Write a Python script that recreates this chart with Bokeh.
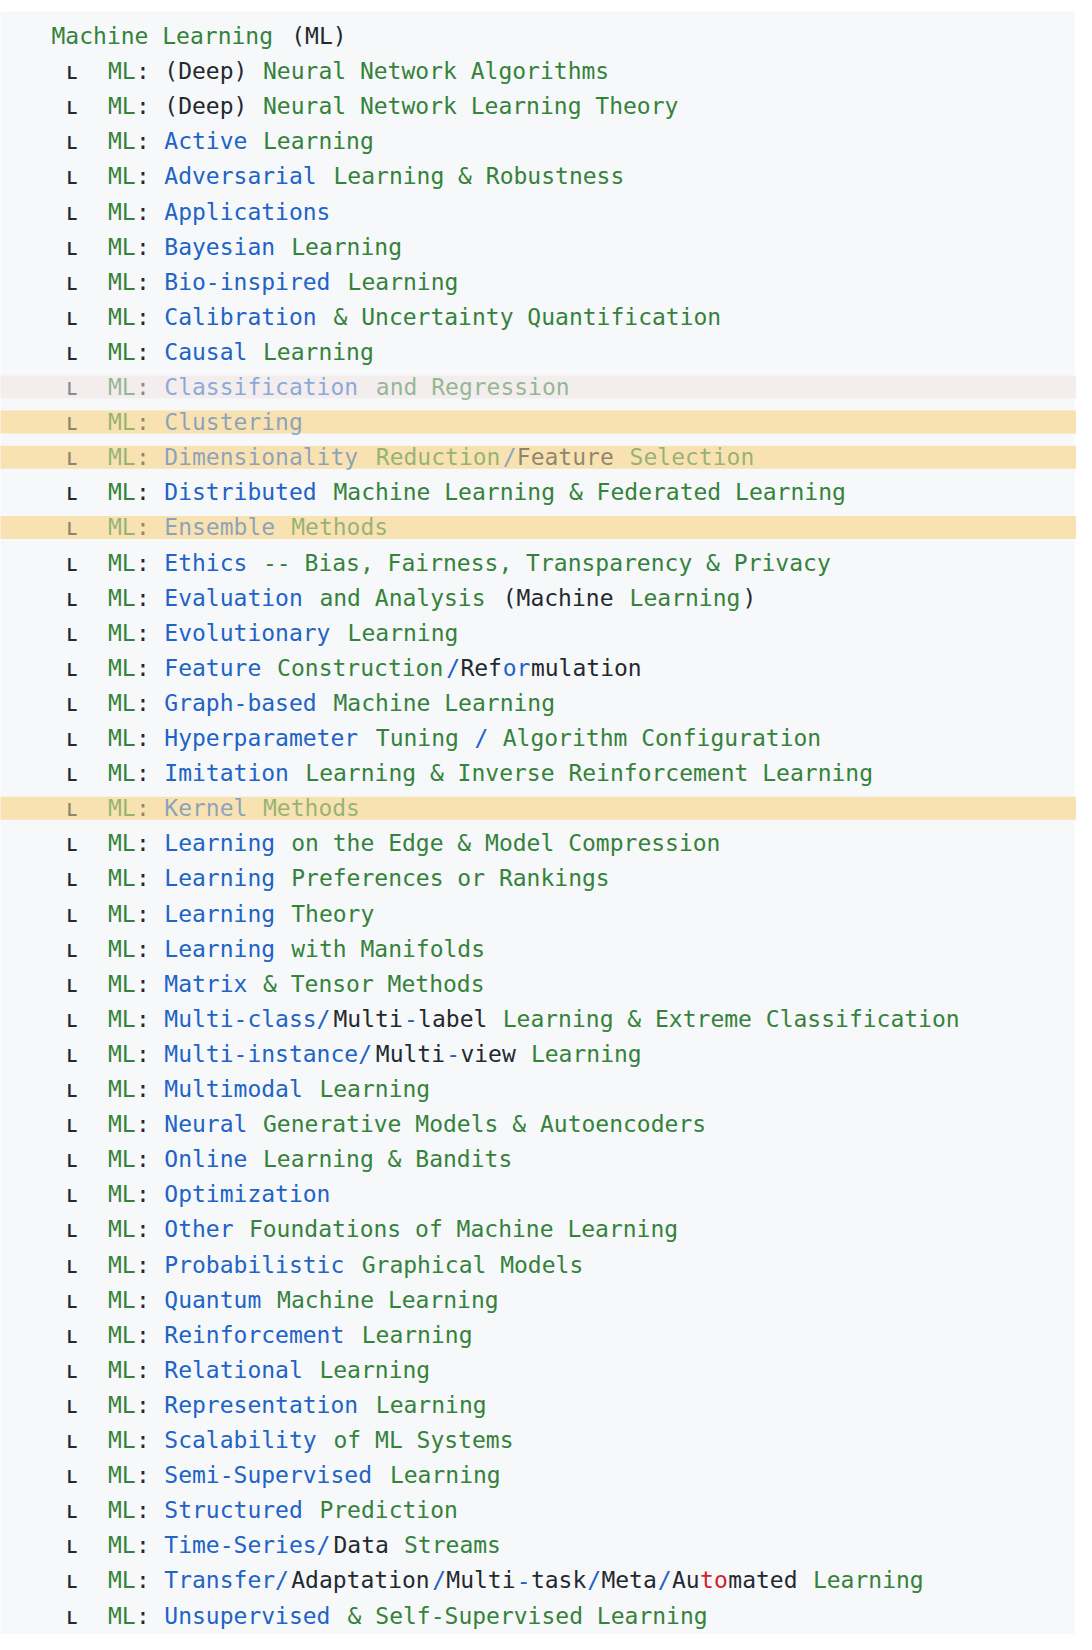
from bokeh.plotting import figure
from bokeh.models import ColumnDataSource, Range1d
from bokeh.core.properties import value
from bokeh.embed import file_html
from bokeh.resources import INLINE

# each segment starts with |<colour key>; g=green b=blue k=black r=red
header = "|gMachine Learning |k(ML)"
items = [
    "|k(Deep) |gNeural Network Algorithms",
    "|k(Deep) |gNeural Network Learning Theory",
    "|bActive |gLearning",
    "|bAdversarial |gLearning & Robustness",
    "|bApplications",
    "|bBayesian |gLearning",
    "|bBio-inspired |gLearning",
    "|bCalibration |g& Uncertainty Quantification",
    "|bCausal |gLearning",
    "|bClassification |gand Regression",
    "|bClustering",
    "|bDimensionality |gReduction|b/|kFeature |gSelection",
    "|bDistributed |gMachine Learning & Federated Learning",
    "|bEnsemble |gMethods",
    "|bEthics |g-- Bias, Fairness, Transparency & Privacy",
    "|bEvaluation |gand Analysis |k(Machine |gLearning|k)",
    "|bEvolutionary |gLearning",
    "|bFeature |gConstruction|b/|kRef|bor|kmulation",
    "|bGraph-based |gMachine Learning",
    "|bHyperparameter |gTuning |b/ |gAlgorithm Configuration",
    "|bImitation |gLearning & Inverse Reinforcement Learning",
    "|bKernel |gMethods",
    "|bLearning |gon the Edge & Model Compression",
    "|bLearning |gPreferences or Rankings",
    "|bLearning |gTheory",
    "|bLearning |gwith Manifolds",
    "|bMatrix |g& Tensor Methods",
    "|bMulti-class/|kMulti|b-|klabel |gLearning & Extreme Classification",
    "|bMulti-instance/|kMulti|b-|kview |gLearning",
    "|bMultimodal |gLearning",
    "|bNeural |gGenerative Models & Autoencoders",
    "|bOnline |gLearning & Bandits",
    "|bOptimization",
    "|bOther |gFoundations of Machine Learning",
    "|bProbabilistic |gGraphical Models",
    "|bQuantum |gMachine Learning",
    "|bReinforcement |gLearning",
    "|bRelational |gLearning",
    "|bRepresentation |gLearning",
    "|bScalability |gof ML Systems",
    "|bSemi-Supervised |gLearning",
    "|bStructured |gPrediction",
    "|bTime-Series/|kData |gStreams",
    "|bTransfer/|kAdaptation|b/|kMulti|b-|ktask|b/|kMeta|b/|kAu|rto|kmated |gLearning",
    "|bUnsupervised |g& Self-Supervised Learning",
]
footer = "|gMultiagent Systems |k(MAS)"
# row numbers counted with the header as row 0
pink_rows = [10]
yellow_rows = [11, 12, 14, 22]

palette = {"g": "#35823a", "b": "#2163c6", "k": "#24292f", "r": "#cf222e"}

X0, CW, Y0, DY = 59.0, 14.1, 43.5, 35.1

p = figure(width=1076, height=1634, x_range=Range1d(8, 1084), y_range=Range1d(1642, 8),
           output_backend="svg", toolbar_location=None, min_border=0)
p.axis.visible = False
p.grid.visible = False
p.outline_line_color = None
p.background_fill_color = "white"

# code panel
p.quad(left=0, right=1082, top=19, bottom=1642, fill_color="#f6f8fa", line_color=None)

for r in pink_rows + yellow_rows:
    yc = Y0 + r * DY
    p.quad(left=0, right=1100, top=yc - 11.5, bottom=yc + 11.5,
           fill_color="#f3eded" if r in pink_rows else "#f8e2b2", line_color=None)

xs, ys, txt, cols, alphas = [], [], [], [], []


def add_row(markup, row, col0, alpha):
    col = col0
    for seg in markup.split("|")[1:]:
        key, s = seg[0], seg[1:]
        xs.append(X0 + col * CW)
        ys.append(Y0 + row * DY)
        txt.append(s)
        cols.append(palette[key])
        alphas.append(alpha)
        col += len(s)


add_row(header, 0, 0, 1.0)
for i, m in enumerate(items):
    row = i + 1
    a = 0.5 if row in pink_rows + yellow_rows else 1.0
    xs.append(X0 + 1 * CW); ys.append(Y0 + row * DY); txt.append("ʟ")
    cols.append(palette["k"]); alphas.append(a)
    add_row("|gML|k: " + m, row, 4, a)
add_row(footer, len(items) + 1, 0, 0.6)

src = ColumnDataSource(dict(x=xs, y=ys, text=txt, color=cols, alpha=alphas))
p.text(x="x", y="y", text="text", source=src, text_color="color", text_alpha="alpha",
       text_font=value("DejaVu Sans Mono"), text_font_size="23px",
       text_baseline="middle", text_align="left")

open("out.html", "w").write(file_html(p, INLINE))
